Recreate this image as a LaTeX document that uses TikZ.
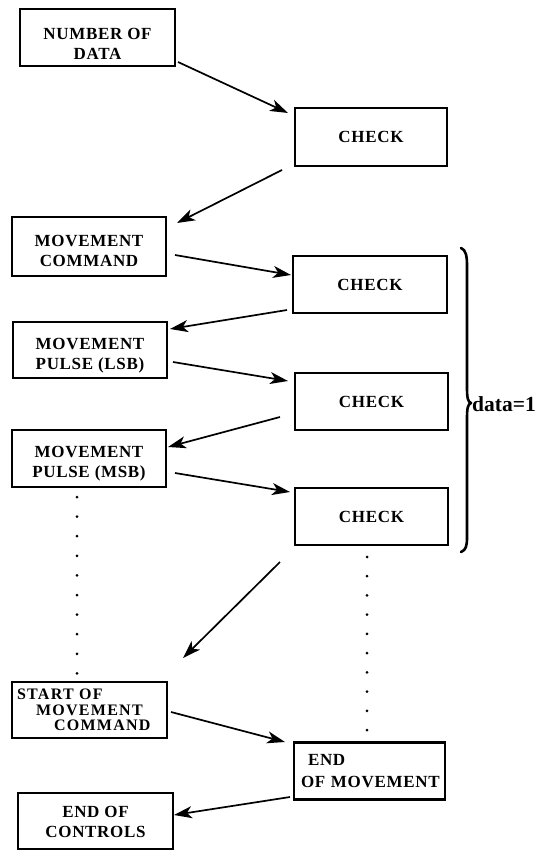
\documentclass[tikz,border=0pt]{standalone}
\usepackage{fontspec}
\setmainfont{Liberation Serif}
\newfontfamily\boxfont{Liberation Serif}[LetterSpace=4]
\newfontfamily\startfont{Liberation Serif}[LetterSpace=8]
\usetikzlibrary{arrows.meta,calc}
\newcommand\boxtext[2]{\raisebox{-#1}[\height][\depth]{\begin{tabular}{@{}c@{}}#2\end{tabular}}}
\begin{document}
\begin{tikzpicture}[x=1pt,y=-1pt,
  box/.style={draw, rectangle, line width=2.3pt, inner sep=0pt, outer sep=0pt,
    align=center, minimum width=154pt, minimum height=57pt,
    font=\boxfont\bfseries\fontsize{17}{20}\selectfont},
  arr/.style={line width=1.7pt, -{Stealth[length=18pt,width=12pt,inset=5pt]}},
  dotmark/.style={fill=black},
  bracestyle/.style={line width=2.6pt, line cap=round, line join=round}]
\useasboundingbox (0,0) rectangle (549,850);

% boxes
\node[box, minimum width=155pt] (nd) at (97.5,37.5) {\boxtext{7.6pt}{NUMBER OF\\DATA}};
\node[box, minimum width=152pt, minimum height=58pt] (c1) at (371,137) {CHECK};
\node[box, minimum height=59pt] (mc) at (89,246.5) {\boxtext{6pt}{MOVEMENT\\COMMAND}};
\node[box] (c2) at (370,284.5) {CHECK};
\node[box, minimum height=56pt] (lsb) at (90,350) {\boxtext{5.9pt}{MOVEMENT\\PULSE (LSB)}};
\node[box, minimum width=153pt] (c3) at (371.5,401.5) {CHECK};
\node[box] (msb) at (89,458.5) {\boxtext{5.2pt}{MOVEMENT\\PULSE (MSB)}};
\node[box, minimum width=153pt] (c4) at (371.5,516.5) {CHECK};
\node[box, minimum width=155pt, minimum height=56pt, text width=145pt, align=left,
  font=\startfont\bfseries\fontsize{16}{15.5}\selectfont] (st) at (89.5,710)
  {START OF\\\hspace*{19pt}MOVEMENT\\\hspace*{37pt}COMMAND};
\node[box, minimum width=151pt, text width=145pt, align=left,
  font=\boxfont\bfseries\fontsize{17}{22}\selectfont] (eom) at (369.5,771)
  {\hspace*{11pt}END\\\hspace*{4pt}OF MOVEMENT};
\node[box, minimum width=155pt, minimum height=56pt] (eoc) at (95.5,821) {\boxtext{2.3pt}{END OF\\CONTROLS}};

% arrows
\draw[arr] ([shift={(3,-4)}]nd.south east) -- ([shift={(-7,5)}]c1.north west);
\draw[arr] ([shift={(-13,4)}]c1.south west) -- ([shift={(11,6)}]mc.north east);
\draw[arr] ([shift={(9,8.5)}]mc.east) -- ([shift={(-2,-9.5)}]c2.west);
\draw[arr] ([shift={(-6,-3)}]c2.south west) -- ([shift={(3,7)}]lsb.north east);
\draw[arr] ([shift={(6,12)}]lsb.east) -- ([shift={(-7,-20.5)}]c3.west);
\draw[arr] ([shift={(-15,-13)}]c3.south west) -- ([shift={(2,17)}]msb.north east);
\draw[arr] ([shift={(9,14.5)}]msb.east) -- ([shift={(-5,4)}]c4.north west);
\draw[arr] ([shift={(-15,17)}]c4.south west) -- ([shift={(16,-24)}]st.north east);
\draw[arr] ([shift={(4,2)}]st.east) -- ([shift={(-9,-0.5)}]eom.north west);
\draw[arr] ([shift={(-4,-2.5)}]eom.south west) -- ([shift={(1,-6)}]eoc.east);

% dotted continuations
\coordinate (l0) at ([shift={(-12,10)}]msb.south);
\coordinate (l1) at ([shift={(-12.5,-8.6)}]st.north);
\foreach \i in {0,...,9} \fill[dotmark] ($(l0)!\i/9!(l1)$) circle (1.5pt);
\coordinate (r0) at ([shift={(-4.5,12)}]c4.south);
\coordinate (r1) at ([shift={(-2.5,-12.5)}]eom.north);
\foreach \i in {0,...,9} \fill[dotmark] ($(r0)!\i/9!(r1)$) circle (1.5pt);

% brace
\draw[bracestyle] (461,248) .. controls (466,250) and (467,256) .. (467,266)
  -- (467,388) .. controls (467,398) and (468,402) .. (471,403)
  .. controls (468,404) and (467,408) .. (467,418)
  -- (467,537) .. controls (467,546) and (466,550) .. (461,552);
\node[anchor=west, inner sep=0pt, font=\bfseries\fontsize{21.5}{24}\selectfont] (lbl) at (472,404) {data=1};
\end{tikzpicture}
\end{document}
